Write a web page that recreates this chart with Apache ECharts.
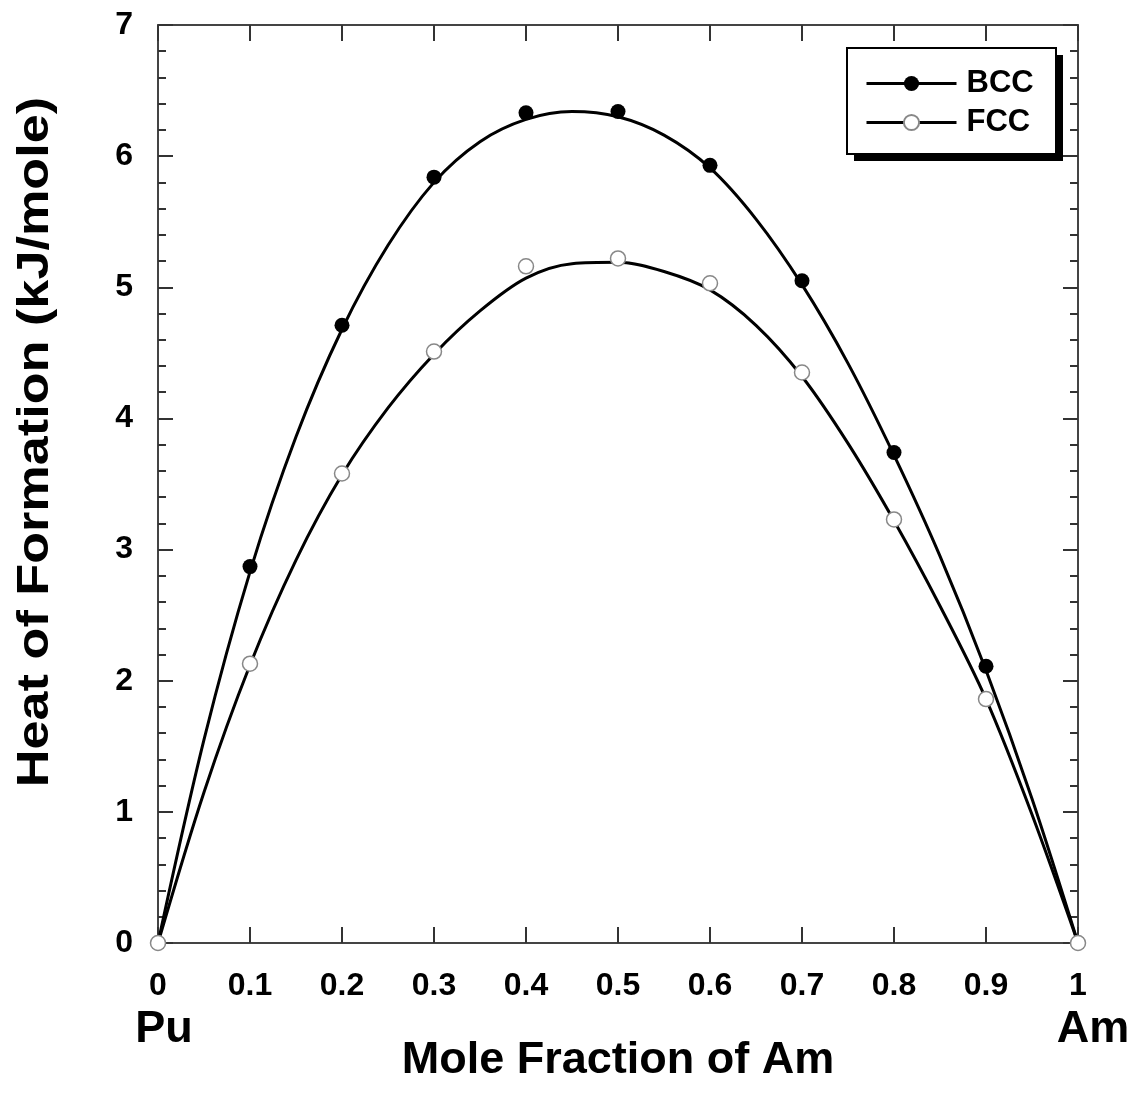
<!DOCTYPE html>
<html>
<head>
<meta charset="utf-8">
<script src="https://cdn.jsdelivr.net/npm/echarts@6/dist/echarts.min.js"></script>
<style>
html,body{margin:0;padding:0;background:#fff;}
#chart{width:1136px;height:1100px;}
</style>
</head>
<body>
<div id="chart"></div>
<script>
// Fitted curves
const curveX   = [0, 0.05, 0.1, 0.15, 0.2, 0.25, 0.3, 0.35, 0.4, 0.45, 0.5, 0.55, 0.6, 0.65, 0.7, 0.75, 0.8, 0.85, 0.9, 0.95, 1];
const bccCurve = [0, 1.55, 2.83, 3.86, 4.68, 5.32, 5.80, 6.11, 6.28, 6.34, 6.30, 6.16, 5.91, 5.52, 5.02, 4.42, 3.72, 2.95, 2.08, 1.10, 0];
const fccCurve = [0, 1.15, 2.12, 2.92, 3.57, 4.08, 4.49, 4.82, 5.07, 5.18, 5.19, 5.12, 4.98, 4.71, 4.32, 3.81, 3.22, 2.57, 1.86, 0.98, 0];
// Calculated points
const pointX    = [0, 0.1, 0.2, 0.3, 0.4, 0.5, 0.6, 0.7, 0.8, 0.9, 1];
const bccPoints = [0, 2.87, 4.71, 5.84, 6.33, 6.34, 5.93, 5.05, 3.74, 2.11, 0];
const fccPoints = [0, 2.13, 3.58, 4.51, 5.16, 5.22, 5.03, 4.35, 3.23, 1.86, 0];
const seriesNames = ['BCC', 'FCC'];
const xTitle = 'Mole Fraction of Am';
const yTitle = 'Heat of Formation (kJ/mole)';
const leftEndLabel = 'Pu';
const rightEndLabel = 'Am';

const FONT = 'Liberation Sans, Arial, sans-serif';
const zip = (xs, ys) => xs.map((x, i) => [x, ys[i]]);

const axisLineStyle = { color: '#444', width: 2 };
const tickStyle = { color: '#333', width: 2 };
const minorStyle = { color: '#333', width: 2 };

const chart = echarts.init(document.getElementById('chart'), null, { renderer: 'canvas' });

const xAxisBase = {
  type: 'value', min: 0, max: 1, interval: 0.1,
  axisLine: { onZero: false, lineStyle: axisLineStyle },
  axisTick: { show: true, inside: true, length: 16, lineStyle: tickStyle },
  splitLine: { show: false }
};
const yAxisBase = {
  type: 'value', min: 0, max: 7, interval: 1,
  axisLine: { show: true, onZero: false, lineStyle: axisLineStyle },
  axisTick: { show: true, inside: true, length: 15, lineStyle: tickStyle },
  minorTick: { show: true, splitNumber: 5, length: 8, lineStyle: minorStyle },
  splitLine: { show: false }
};

const option = {
  backgroundColor: '#fff',
  animation: false,
  grid: { left: 158, right: 58, top: 25, bottom: 157, containLabel: false },
  xAxis: [
    Object.assign({}, xAxisBase, {
      position: 'bottom',
      axisLabel: {
        margin: 27, color: '#000', fontFamily: FONT, fontWeight: 'bold', fontSize: 32,
        formatter: v => (v === 0 || v === 1) ? String(v) : v.toFixed(1)
      },
      name: xTitle, nameLocation: 'middle', nameGap: 95,
      nameTextStyle: { color: '#000', fontFamily: FONT, fontWeight: 'bold', fontSize: 45 }
    }),
    Object.assign({}, xAxisBase, { position: 'top', axisLabel: { show: false } })
  ],
  yAxis: [
    Object.assign({}, yAxisBase, {
      position: 'left',
      axisLabel: { margin: 25, color: '#000', fontFamily: FONT, fontWeight: 'bold', fontSize: 32 }
    }),
    Object.assign({}, yAxisBase, { position: 'right', axisLabel: { show: false } })
  ],
  legend: {
    data: seriesNames,
    orient: 'vertical',
    left: 847, top: 48,
    padding: [20, 22, 17, 18],
    itemWidth: 90, itemHeight: 19, itemGap: 8,
    lineStyle: { width: 3 },
    textStyle: { color: '#000', fontFamily: FONT, fontWeight: 'bold', fontSize: 31, lineHeight: 30, padding: [0, 0, 0, 5] }
  },
  series: [
    {
      name: seriesNames[0], type: 'line', smooth: 0.33, data: zip(curveX, bccCurve),
      showSymbol: false, symbol: 'circle', symbolSize: 15,
      itemStyle: { color: '#000' },
      lineStyle: { color: '#000', width: 3 }, z: 2
    },
    {
      name: seriesNames[1], type: 'line', smooth: 0.33, data: zip(curveX, fccCurve),
      showSymbol: false, symbol: 'circle', symbolSize: 15,
      itemStyle: { color: '#fff', borderColor: '#888', borderWidth: 1.5 },
      lineStyle: { color: '#000', width: 3 }, z: 2
    },
    {
      name: seriesNames[0] + ' points', type: 'scatter', data: zip(pointX, bccPoints),
      symbol: 'circle', symbolSize: 15,
      itemStyle: { color: '#000', opacity: 1 }, z: 3
    },
    {
      name: seriesNames[1] + ' points', type: 'scatter', data: zip(pointX, fccPoints),
      symbol: 'circle', symbolSize: 15,
      itemStyle: { color: '#fff', borderColor: '#888', borderWidth: 1.5, opacity: 1 }, z: 4
    }
  ],
  graphic: [
    // legend frame with drop shadow
    { type: 'rect', shape: { x: 854, y: 55, width: 209, height: 106 }, style: { fill: '#000' }, z: 1 },
    { type: 'rect', shape: { x: 847, y: 48, width: 209, height: 106 }, style: { fill: '#fff', stroke: '#000', lineWidth: 2 }, z: 1 },
    {
      type: 'text', x: 36, y: 442, rotation: Math.PI / 2, scaleX: 1.16,
      style: { text: yTitle, fill: '#000', font: 'bold 45px ' + FONT, textAlign: 'center', textVerticalAlign: 'middle' }
    },
    {
      type: 'text', x: 164, y: 1030,
      style: { text: leftEndLabel, fill: '#000', font: 'bold 45px ' + FONT, textAlign: 'center', textVerticalAlign: 'middle' }
    },
    {
      type: 'text', x: 1093, y: 1030,
      style: { text: rightEndLabel, fill: '#000', font: 'bold 45px ' + FONT, textAlign: 'center', textVerticalAlign: 'middle' }
    }
  ]
};
chart.setOption(option);
</script>
</body>
</html>
